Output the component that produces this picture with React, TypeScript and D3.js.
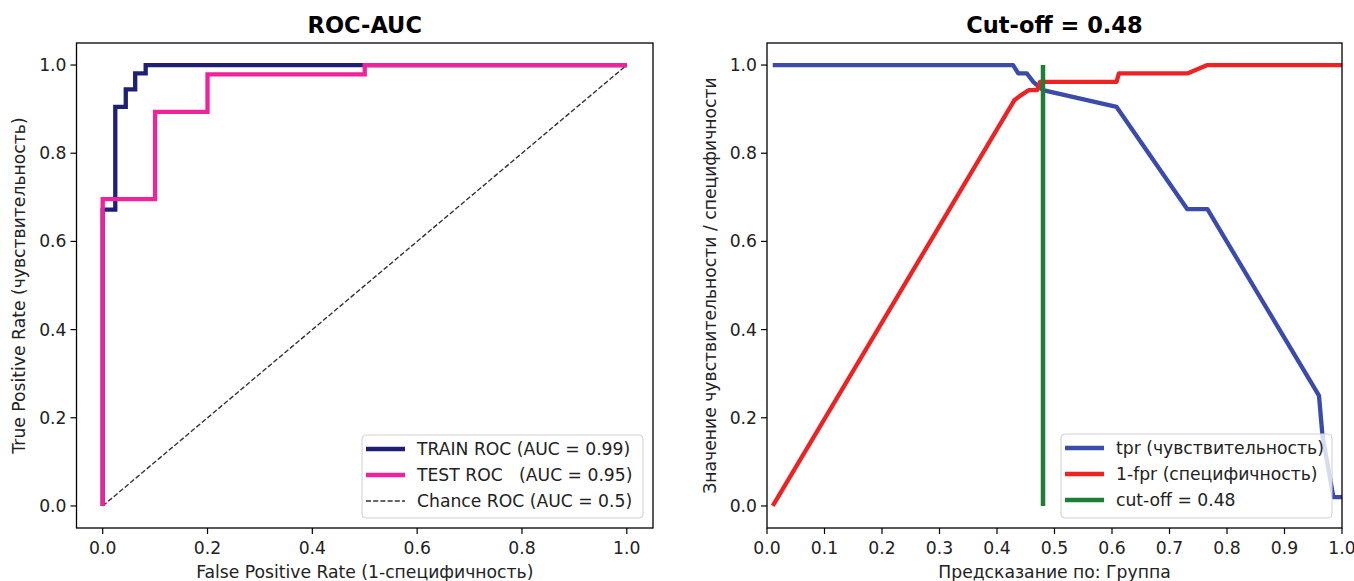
import React, { useEffect, useRef } from 'react';
import * as d3 from 'd3';

// left panel: ROC curves (fpr / tpr)
const trainFpr = [0, 0, 0.024, 0.024, 0.044, 0.044, 0.062, 0.062, 0.082, 0.082, 1.0];
const trainTpr = [0, 0.672, 0.672, 0.905, 0.905, 0.945, 0.945, 0.981, 0.981, 1.0, 1.0];
const testFpr = [0, 0, 0.1, 0.1, 0.2, 0.2, 0.5, 0.5, 1.0];
const testTpr = [0, 0.696, 0.696, 0.894, 0.894, 0.979, 0.979, 1.0, 1.0];
const chanceLine = [0, 1];
const rocLegend = ['TRAIN ROC (AUC = 0.99)', 'TEST ROC   (AUC = 0.95)', 'Chance ROC (AUC = 0.5)'];

// right panel: sensitivity / specificity vs threshold
const tprThresholds = [0.01, 0.428, 0.437, 0.452, 0.463, 0.48, 0.608, 0.731, 0.766, 0.96, 0.966, 0.985, 1.0];
const tprValues = [1, 1, 0.981, 0.981, 0.962, 0.943, 0.905, 0.673, 0.673, 0.25, 0.16, 0.02, 0.02];
const specThresholds = [0.01, 0.43, 0.44, 0.455, 0.47, 0.475, 0.608, 0.612, 0.731, 0.766, 1.0];
const specValues = [0, 0.92, 0.93, 0.943, 0.943, 0.962, 0.962, 0.981, 0.981, 1.0, 1.0];
const cutOff = 0.48;
const cutLegend = ['tpr (чувствительность)', '1-fpr (специфичность)', 'cut-off = 0.48'];

const yTicks = [0, 0.2, 0.4, 0.6, 0.8, 1.0];
const rocXTicks = [0, 0.2, 0.4, 0.6, 0.8, 1.0];
const cutXTicks = [0, 0.1, 0.2, 0.3, 0.4, 0.5, 0.6, 0.7, 0.8, 0.9, 1.0];

const FONT = "'DejaVu Sans', sans-serif";
const TEXT = '#222';
const FS = 17.2;

const App = () => {
  const ref = useRef<SVGSVGElement | null>(null);

  useEffect(() => {
    const svg = d3.select(ref.current);
    svg.selectAll('*').remove();

    const y = d3.scaleLinear().domain([-0.05, 1.05]).range([528, 43]);

    function drawAxes(x, xTicks, title, xLabel, yLabel, yLabelX) {
      const [x0, x1] = x.range();
      const g = svg.append('g');
      xTicks.forEach(t => {
        g.append('line').attr('x1', x(t)).attr('x2', x(t)).attr('y1', 528).attr('y2', 534)
          .attr('stroke', '#000').attr('stroke-width', 1.2);
        g.append('text').attr('x', x(t)).attr('y', 554).attr('text-anchor', 'middle')
          .attr('font-size', FS).attr('fill', TEXT).text(d3.format('.1f')(t));
      });
      yTicks.forEach(t => {
        g.append('line').attr('x1', x0 - 6).attr('x2', x0).attr('y1', y(t)).attr('y2', y(t))
          .attr('stroke', '#000').attr('stroke-width', 1.2);
        g.append('text').attr('x', x0 - 10).attr('y', y(t)).attr('dy', '0.35em').attr('text-anchor', 'end')
          .attr('font-size', FS).attr('fill', TEXT).text(d3.format('.1f')(t));
      });
      g.append('rect').attr('x', x0).attr('y', 43).attr('width', x1 - x0).attr('height', 528 - 43)
        .attr('fill', 'none').attr('stroke', '#000').attr('stroke-width', 1.3);
      g.append('text').attr('x', (x0 + x1) / 2).attr('y', 33).attr('text-anchor', 'middle')
        .attr('font-size', 22.5).attr('font-weight', 'bold').attr('fill', '#000').text(title);
      g.append('text').attr('x', (x0 + x1) / 2).attr('y', 578).attr('text-anchor', 'middle')
        .attr('font-size', FS).attr('fill', TEXT).text(xLabel);
      g.append('text').attr('transform', `translate(${yLabelX},${(43 + 528) / 2}) rotate(-90)`)
        .attr('text-anchor', 'middle').attr('dy', '0.35em')
        .attr('font-size', FS).attr('fill', TEXT).text(yLabel);
    }

    function drawLegend(left, top, right, bottom, items) {
      const g = svg.append('g');
      g.append('rect').attr('x', left).attr('y', top).attr('width', right - left).attr('height', bottom - top)
        .attr('rx', 4).attr('fill', 'white').attr('fill-opacity', 0.8).attr('stroke', '#d0d0d0');
      items.forEach((it, i) => {
        const cy = top + 14 + i * 26;
        g.append('line').attr('x1', left + 4).attr('x2', left + 43).attr('y1', cy).attr('y2', cy)
          .attr('stroke', it.color).attr('stroke-width', it.width)
          .attr('stroke-dasharray', it.dash || null);
        g.append('text').attr('x', left + 55).attr('y', cy).attr('dy', '0.35em')
          .attr('font-size', FS).attr('fill', TEXT).style('white-space', 'pre').text(it.label);
      });
    }

    const pathFrom = (xs, ys, xScale) =>
      d3.line<number>().x((d, i) => xScale(xs[i])).y(d => y(d))(ys);

    // ---------- left: ROC-AUC ----------
    const xRoc = d3.scaleLinear().domain([-0.05, 1.05]).range([76.5, 653]);

    svg.append('path').attr('d', pathFrom(chanceLine, chanceLine, xRoc))
      .attr('fill', 'none').attr('stroke', '#333').attr('stroke-width', 1.4).attr('stroke-dasharray', '5,2.2');
    svg.append('path').attr('d', pathFrom(trainFpr, trainTpr, xRoc))
      .attr('fill', 'none').attr('stroke', '#1f1f78').attr('stroke-width', 4.3);
    svg.append('path').attr('d', pathFrom(testFpr, testTpr, xRoc))
      .attr('fill', 'none').attr('stroke', '#f0229c').attr('stroke-width', 4.3);

    drawAxes(xRoc, rocXTicks, 'ROC-AUC', 'False Positive Rate (1-специфичность)',
      'True Positive Rate (чувствительность)', 19);
    drawLegend(362, 435, 643, 518, [
      { label: rocLegend[0], color: '#1f1f78', width: 4.3 },
      { label: rocLegend[1], color: '#f0229c', width: 4.3 },
      { label: rocLegend[2], color: '#333', width: 1.4, dash: '5,2.2' },
    ]);

    // ---------- right: cut-off ----------
    const xCut = d3.scaleLinear().domain([0, 1]).range([767, 1342]);

    svg.append('path').attr('d', pathFrom(tprThresholds, tprValues, xCut))
      .attr('fill', 'none').attr('stroke', '#3a4bab').attr('stroke-width', 4.3).attr('stroke-linejoin', 'round');
    svg.append('path').attr('d', pathFrom(specThresholds, specValues, xCut))
      .attr('fill', 'none').attr('stroke', '#ee2222').attr('stroke-width', 4.3).attr('stroke-linejoin', 'round');
    svg.append('line').attr('x1', xCut(cutOff)).attr('x2', xCut(cutOff)).attr('y1', y(0)).attr('y2', y(1))
      .attr('stroke', '#1e7e34').attr('stroke-width', 4.5);

    drawAxes(xCut, cutXTicks, 'Cut-off = 0.48', 'Предсказание по: Группа',
      'Значение чувствительности / специфичности', 710);
    drawLegend(1061, 434, 1332, 518, [
      { label: cutLegend[0], color: '#3a4bab', width: 4.3 },
      { label: cutLegend[1], color: '#ee2222', width: 4.3 },
      { label: cutLegend[2], color: '#1e7e34', width: 4.3 },
    ]);
  }, []);

  return (
    <svg ref={ref} width={1354} height={581}
      style={{ position: 'absolute', left: 0, top: 0, fontFamily: FONT, background: 'white' }} />
  );
};

export default App;
